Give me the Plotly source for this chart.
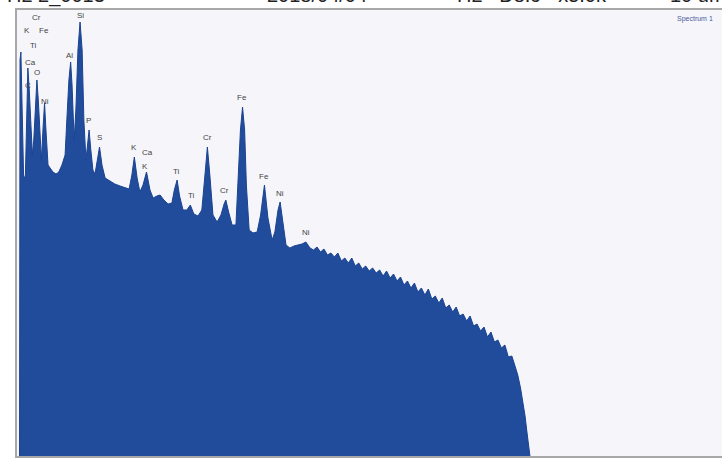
import plotly.graph_objects as go

# EDS spectrum, energy in keV, counts (arbitrary units)
energy_kev = [
    0.00, 0.015, 0.04, 0.08, 0.12, 0.17, 0.22, 0.24, 0.28, 0.33, 0.37, 0.41, 0.46, 0.50,
    0.54, 0.59, 0.63, 0.68, 0.72, 0.76, 0.82, 0.88, 0.96, 1.05, 1.13, 1.22, 1.31, 1.36,
    1.42, 1.47, 1.51, 1.57, 1.62, 1.68, 1.74, 1.80, 1.85, 1.91, 1.95, 2.00, 2.05, 2.11,
    2.17, 2.23, 2.30, 2.37, 2.46, 2.60, 2.74, 2.89, 3.03, 3.15, 3.23, 3.30, 3.38, 3.46,
    3.55, 3.65, 3.75, 3.84, 3.95, 4.04, 4.15, 4.27, 4.38, 4.45, 4.53, 4.60, 4.70, 4.81,
    4.91, 5.01, 5.13, 5.24, 5.33, 5.40, 5.47, 5.56, 5.68, 5.79, 5.88, 5.93, 6.01, 6.11,
    6.22, 6.29, 6.35, 6.41, 6.47, 6.52, 6.60, 6.71, 6.83, 6.93, 7.04, 7.14, 7.26, 7.34,
    7.43, 7.49, 7.56, 7.66, 7.77, 7.89, 8.00, 8.12, 8.23, 8.35,
    8.45, 8.55, 8.65, 8.75, 8.85, 8.95, 9.05, 9.15, 9.25, 9.35, 9.45, 9.55, 9.65, 9.75,
    9.85, 9.95, 10.05, 10.15, 10.25, 10.35, 10.45, 10.55, 10.65, 10.75, 10.85, 10.95,
    11.05, 11.15, 11.25, 11.35, 11.45, 11.55, 11.65, 11.75, 11.85, 11.95, 12.05, 12.15,
    12.25, 12.35, 12.45, 12.55, 12.65, 12.75, 12.85, 12.95, 13.05, 13.15, 13.25, 13.35,
    13.45, 13.55, 13.65, 13.75, 13.85, 13.95, 14.05, 14.15, 14.25, 14.32, 14.40, 14.47,
    14.53, 14.58, 14.63, 14.67,
]
counts = [
    0, 396, 404, 346, 276, 281, 346, 388, 366, 336, 301, 316, 346, 376,
    356, 316, 296, 330, 353, 326, 291, 288, 284, 282, 284, 291, 301, 336,
    376, 394, 371, 316, 346, 406, 434, 406, 336, 296, 311, 326, 306, 286,
    282, 296, 309, 291, 278, 275, 272, 270, 268, 267, 281, 299, 278, 264,
    271, 284, 266, 258, 260, 261, 256, 252, 253, 266, 276, 260, 246, 246,
    251, 242, 240, 246, 281, 309, 281, 241, 234, 241, 252, 256, 244, 231,
    231, 276, 326, 349, 326, 271, 226, 223, 224, 241, 271, 238, 216, 224,
    246, 254, 236, 211, 208, 210, 211, 212, 214, 208,
    206, 209, 204, 207, 201, 203, 199, 203, 195, 198, 193, 198, 190, 193,
    187, 190, 185, 188, 183, 186, 180, 185, 178, 182, 175, 179,
    171, 175, 168, 173, 164, 168, 161, 167, 157, 160, 153, 158,
    148, 151, 144, 149, 140, 142, 135, 140, 130, 132, 125, 129,
    119, 124, 114, 116, 108, 111, 99, 100, 89, 81, 68, 55,
    40, 25, 10, 0,
]

# peak labels
peak_names = ["Cr", "K", "Fe", "Ti", "Ca", "O", "C", "Ni", "Al", "Si", "P", "S",
              "K", "Ca", "K", "Ti", "Ti", "Cr", "Cr", "Fe", "Fe", "Ni", "Ni"]
peak_energy = [0.50, 0.22, 0.70, 0.39, 0.33, 0.50, 0.25, 0.73, 1.45, 1.74, 1.99, 2.29,
               3.29, 3.69, 3.61, 4.50, 4.93, 5.39, 5.90, 6.39, 7.03, 7.49, 8.23]
peak_count = [439, 426, 426, 411, 394, 384, 371, 355, 401, 441, 336, 319,
              309, 304, 290, 285, 261, 319, 266, 359, 280, 263, 224]

header_texts = ["H2 2_0013", "2018/04/04", "H2   D8.9   x5.0k", "10 um"]
header_pos = [-0.017, 0.352, 0.621, 0.923]

fig = go.Figure()
fig.add_trace(go.Scatter(
    x=energy_kev, y=counts, mode="lines", fill="tozeroy",
    fillcolor="#204c9b", line=dict(color="#1b4390", width=1),
    hoverinfo="skip", showlegend=False,
))

for name, e, c in zip(peak_names, peak_energy, peak_count):
    fig.add_annotation(x=e, y=c, text=name, showarrow=False,
                       font=dict(size=8, color="#444444", family="Liberation Sans"))

for txt, xp in zip(header_texts, header_pos):
    fig.add_annotation(x=xp, y=1.033, xref="paper", yref="paper", text=txt,
                       showarrow=False, xanchor="left", yanchor="middle",
                       font=dict(size=20, color="#222222", family="Liberation Sans"))

fig.add_annotation(x=0.933, y=0.993, xref="paper", yref="paper", text="Spectrum 1",
                   showarrow=False, xanchor="left", yanchor="top",
                   font=dict(size=7, color="#4a5aa0", family="Liberation Sans"))

fig.update_layout(
    width=722, height=459,
    margin=dict(l=17, r=0, t=10, b=3),
    paper_bgcolor="white", plot_bgcolor="#f6f6fa",
    showlegend=False,
)
fig.update_xaxes(range=[-0.072, 20.19], showgrid=False, zeroline=False,
                 showticklabels=False, ticks="", showline=True, mirror=True,
                 linecolor="#a8a8a8", linewidth=2)
fig.update_yaxes(range=[0, 446], showgrid=False, zeroline=False,
                 showticklabels=False, ticks="", showline=True,
                 linecolor="#a8a8a8", linewidth=2)

fig.write_html("out.html", config={"displayModeBar": False},
               post_script="document.body.style.margin='0';document.body.style.overflow='hidden';")
